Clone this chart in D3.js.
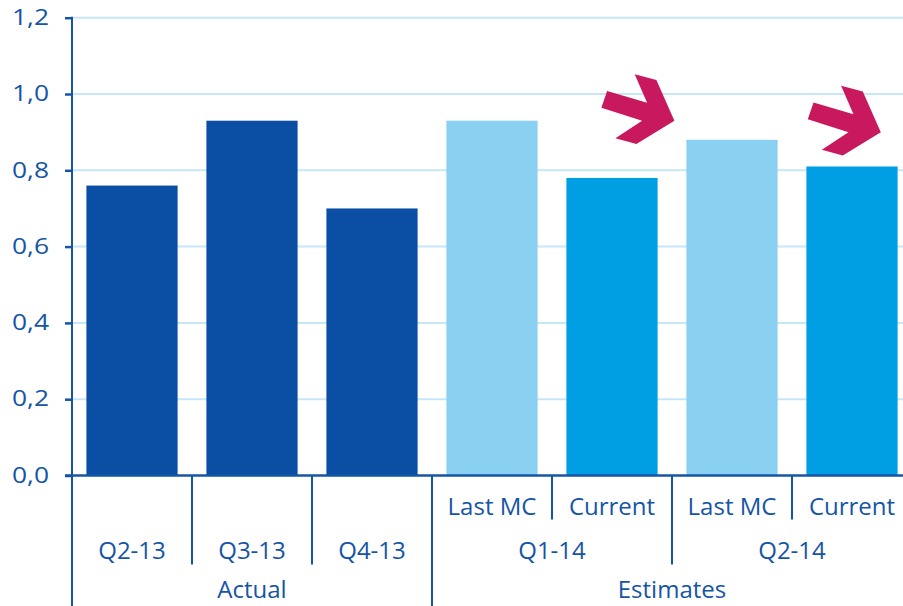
<!DOCTYPE html>
<html>
<head>
<meta charset="utf-8">
<script src="https://cdn.jsdelivr.net/npm/d3@7"></script>
<style>
  body { margin: 0; background: #fff; }
  text { font-family: "Open Sans", sans-serif; fill: #1655a5; }
</style>
</head>
<body>
<div id="chart"></div>
<script>
// bars, left to right
const barKeys = ["Q2-13", "Q3-13", "Q4-13", "Q1-14 Last MC", "Q1-14 Current", "Q2-14 Last MC", "Q2-14 Current"];
const barValues = [0.76, 0.93, 0.70, 0.93, 0.78, 0.88, 0.81];
const barKinds = ["actual", "actual", "actual", "last", "current", "last", "current"];

// label rows under the axis
const subLabels = [
  { text: "Last MC", from: 3, to: 3 }, { text: "Current", from: 4, to: 4 },
  { text: "Last MC", from: 5, to: 5 }, { text: "Current", from: 6, to: 6 }
];
const quarterLabels = [
  { text: "Q2-13", from: 0, to: 0 }, { text: "Q3-13", from: 1, to: 1 },
  { text: "Q4-13", from: 2, to: 2 }, { text: "Q1-14", from: 3, to: 4 },
  { text: "Q2-14", from: 5, to: 6 }
];
const groupLabels = [
  { text: "Actual", from: 0, to: 2 }, { text: "Estimates", from: 3, to: 6 }
];

const yTicks = [0, 0.2, 0.4, 0.6, 0.8, 1.0, 1.2];

// arrows: placed at band index + fraction of step, pointing tip at value
const arrows = [{ band: 4, frac: 1.02, value: 0.93 }, { band: 6, frac: 0.74, value: 0.90 }];

const W = 903, H = 606;
const margin = { left: 72, top: 17.7, bottom: 130.5 };
const plotRight = 912; // last category runs off the picture

const colors = { actual: "#0a4fa3", last: "#89d0f1", current: "#009fe3" };
const axisColor = "#1655a5";

const svg = d3.select("#chart")
  .append("svg")
  .attr("width", W)
  .attr("height", H);

const x = d3.scaleBand()
  .domain(barKeys)
  .range([margin.left, plotRight])
  .paddingInner(0.24)
  .paddingOuter(0.12);

const y = d3.scaleLinear()
  .domain([0, 1.2])
  .range([H - margin.bottom, margin.top]);

const y0 = y(0);
const fmt = v => d3.format(".1f")(v).replace(".", ",");

// grid lines
svg.append("g")
  .selectAll("line")
  .data(yTicks.filter(d => d > 0))
  .enter()
  .append("line")
  .attr("x1", margin.left)
  .attr("x2", W)
  .attr("y1", d => y(d))
  .attr("y2", d => y(d))
  .style("stroke", "#c6e7f7")
  .style("stroke-width", 2);

// bars
svg.append("g")
  .selectAll("rect")
  .data(barKeys)
  .enter()
  .append("rect")
  .attr("x", d => x(d))
  .attr("y", (d, i) => y(barValues[i]))
  .attr("width", x.bandwidth())
  .attr("height", (d, i) => y0 - y(barValues[i]))
  .style("fill", (d, i) => colors[barKinds[i]]);

// y axis
const yAxis = svg.append("g")
  .attr("transform", `translate(${margin.left},0)`)
  .call(d3.axisLeft(y).tickValues(yTicks).tickFormat(fmt).tickSize(7).tickPadding(16));
yAxis.select(".domain").remove();
yAxis.selectAll("line").style("stroke", axisColor).style("stroke-width", 2.5);
yAxis.selectAll("text")
  .style("font-size", "21px")
  .style("font-weight", 500)
  .style("fill", axisColor)
  .attr("font-family", null)
  .attr("textLength", 37)
  .attr("lengthAdjust", "spacingAndGlyphs");

svg.append("line")
  .attr("x1", margin.left).attr("x2", margin.left)
  .attr("y1", margin.top - 1).attr("y2", H)
  .style("stroke", axisColor).style("stroke-width", 2);

// x axis line
svg.append("line")
  .attr("x1", margin.left - 7).attr("x2", W)
  .attr("y1", y0).attr("y2", y0)
  .style("stroke", axisColor).style("stroke-width", 2.5);

// multi-level category labels
const step = x.step();
const edge = i => margin.left + i * step;
const rows = [
  { labels: subLabels, cy: y0 + 31, bottom: y0 + 44 },
  { labels: quarterLabels, cy: y0 + 75, bottom: y0 + 89 },
  { labels: groupLabels, cy: y0 + 114, bottom: H }
];

rows.forEach(row => {
  const g = svg.append("g");
  g.selectAll("text")
    .data(row.labels)
    .enter()
    .append("text")
    .attr("x", d => (edge(d.from) + edge(d.to + 1)) / 2)
    .attr("y", row.cy)
    .attr("dy", "0.35em")
    .attr("text-anchor", "middle")
    .style("font-size", "24px")
    .style("font-weight", 500)
    .text(d => d.text);

  // dividers at left edge of each label block
  g.selectAll("line")
    .data(row.labels.filter(d => d.from > 0))
    .enter()
    .append("line")
    .attr("x1", d => edge(d.from))
    .attr("x2", d => edge(d.from))
    .attr("y1", y0)
    .attr("y2", row.bottom)
    .style("stroke", axisColor)
    .style("stroke-width", 2);
});

// magenta arrows
const arrowShape = [[-67.3, -29.7], [-27.3, -18], [-39.7, -46.4], [-18, -40.7], [0, 0],
  [-38, 23.3], [-59, 17.6], [-32.3, 0], [-73, -13]];

svg.append("g")
  .selectAll("path")
  .data(arrows)
  .enter()
  .append("path")
  .attr("transform", d => `translate(${edge(d.band) + d.frac * step},${y(d.value)})`)
  .attr("d", d3.line()(arrowShape) + "Z")
  .style("fill", "#c8185e");
</script>
</body>
</html>
